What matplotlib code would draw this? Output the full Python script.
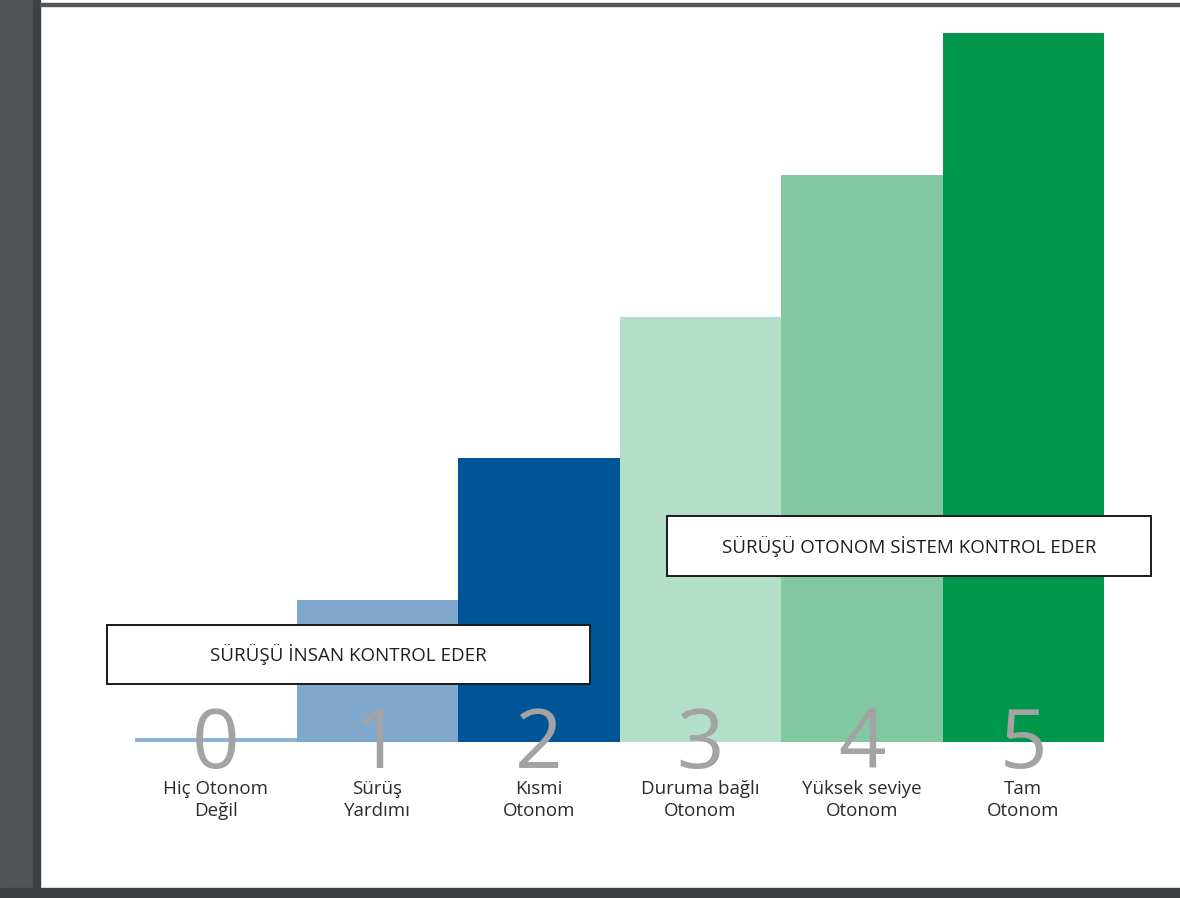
import matplotlib
matplotlib.use("Agg")
import matplotlib.pyplot as plt
from matplotlib.patches import Rectangle

# ---- data ----
levels = [0, 1, 2, 3, 4, 5]
heights = [0.03, 1, 2, 3, 4, 5]
names = ["Hiç Otonom\nDeğil", "Sürüş\nYardımı", "Kısmi\nOtonom",
         "Duruma bağlı\nOtonom", "Yüksek seviye\nOtonom", "Tam\nOtonom"]
colors = ["#8fb3d3", "#7fa8cc", "#005596", "#b3dfca", "#82c9a1", "#00964b"]
box_texts = ["SÜRÜŞÜ İNSAN KONTROL EDER", "SÜRÜŞÜ OTONOM SİSTEM KONTROL EDER"]

W, H = 1180, 898
fig = plt.figure(figsize=(W / 100, H / 100), dpi=100)
fig.patch.set_facecolor("white")

def fx(px):
    return px / W

def fy(py):
    return 1 - py / H

# page frame
fig.add_artist(Rectangle((0, 0), fx(37), 1, transform=fig.transFigure,
                         color="#505457", zorder=0))
fig.add_artist(Rectangle((fx(33), 0), fx(7), 1, transform=fig.transFigure,
                         color="#3e4144", zorder=0))
fig.add_artist(Rectangle((0, 0), 1, fy(888), transform=fig.transFigure,
                         color="#3d4043", zorder=0))
fig.add_artist(Rectangle((fx(40), fy(5.5)), 1, fy(3) - fy(5.5), transform=fig.transFigure,
                         color="#555555", zorder=0))

left, right = fx(135), fx(1104)
bottom, top = fy(742), fy(33)
ax = fig.add_axes([left, bottom, right - left, top - bottom])
ax.set_xlim(-0.5, 5.5)
ax.set_ylim(0, 5)
ax.axis("off")

ax.bar(levels, heights, width=1.0, color=colors, zorder=1)

font = "Open Sans"
for x, n in zip(levels, names):
    ax.text(x, -0.035, str(x), ha="center", va="center", fontsize=60,
            color="#a3a3a3", family=font, fontweight="normal", zorder=3,
            clip_on=False)
    ax.text(x, -0.27, n, ha="center", va="top", fontsize=13.5,
            color="#2b2b2b", family=font, linespacing=1.25, clip_on=False)

# boxes (figure pixel positions)
boxes = [(107, 625, 590, 684), (667, 516, 1151, 576)]
for (x0, y0, x1, y1), t in zip(boxes, box_texts):
    fig.add_artist(Rectangle((fx(x0), fy(y1)), fx(x1 - x0), fy(y0) - fy(y1),
                             transform=fig.transFigure, facecolor="white",
                             edgecolor="#1a1a1a", linewidth=1.4, zorder=5))
    fig.text(fx((x0 + x1) / 2), fy((y0 + y1) / 2), t, ha="center", va="center",
             fontsize=13.5, color="#1e1e1e", family=font, zorder=6)

fig.savefig("out.png", dpi=100)
